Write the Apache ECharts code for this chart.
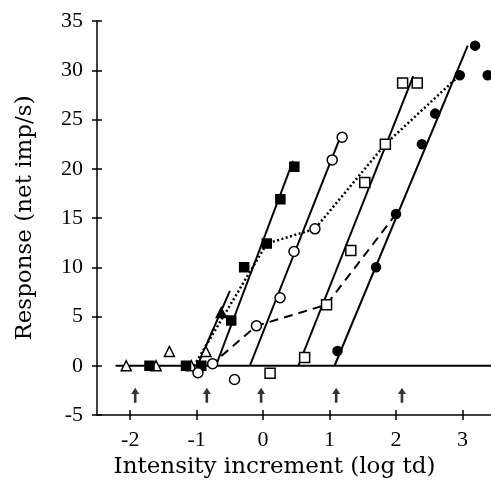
<!DOCTYPE html>
<html><head><meta charset="utf-8">
<script src="https://cdn.jsdelivr.net/npm/echarts@6/dist/echarts.min.js"></script>
<style>html,body{margin:0;padding:0;background:#fff}#c{width:491px;height:485px}</style>
</head><body><div id="c"></div>
<script>
// Tick values
const xTicks = [-2, -1, 0, 1, 2, 3];
const yTicks = [-5, 0, 5, 10, 15, 20, 25, 30, 35];

// Open triangles
const triX = [-2.06, -1.61, -1.41, -1.08, -0.86];
const triY = [0, 0, 1.45, 0, 1.45];
// Dark triangle on the line
const triDarkX = [-0.63];
const triDarkY = [5.4];
// Filled squares
const fsqX = [-1.71, -1.16, -0.93, -0.48, -0.285, 0.055, 0.26, 0.47];
const fsqY = [0, 0, 0, 4.6, 10.0, 12.4, 16.9, 20.2];
// Open circles
const ocX = [-0.98, -0.76, -0.43, -0.10, 0.255, 0.465, 0.78, 1.04, 1.19];
const ocY = [-0.7, 0.2, -1.4, 4.05, 6.9, 11.6, 13.9, 20.9, 23.2];
// Open squares
const osqX = [0.105, 0.625, 0.955, 1.32, 1.53, 1.84, 2.10, 2.32];
const osqY = [-0.75, 0.85, 6.2, 11.7, 18.6, 22.5, 28.7, 28.7];
// Filled circles
const fcX = [1.12, 1.70, 2.0, 2.39, 2.59, 2.96, 3.19, 3.38];
const fcY = [1.5, 10.0, 15.4, 22.5, 25.6, 29.5, 32.5, 29.5];

// Regression lines (end points)
const triLineX = [-0.99, -0.5];   const triLineY = [0, 7.6];
const fsqLineX = [-0.71, 0.45];   const fsqLineY = [0, 20.8];
const ocLineX = [-0.2, 1.15];     const ocLineY = [0, 23.0];
const osqLineX = [0.53, 2.26];    const osqLineY = [0, 29.4];
const fcLineX = [1.075, 3.08];    const fcLineY = [0, 32.5];
// Dotted and dashed connecting curves
const dottedX = [-1.04, 0.055, 0.78, 1.84, 2.96];
const dottedY = [0, 12.4, 13.9, 22.5, 29.5];
const dashedX = [-0.8, -0.10, 0.955, 2.0];
const dashedY = [0, 4.05, 6.2, 15.4];
// Zero baseline
const baseX = [-2.22, 3.43];
const baseY = [0, 0];
// Background-level arrows
const arrowX = [-1.925, -0.847, -0.03, 1.10, 2.09];
const arrowY = [-3.0, -3.0, -3.0, -3.0, -3.0];

const pairs = (xs, ys) => xs.map((x, i) => [x, ys[i]]);
const arrowPath = 'path://M4,0 L8,6.5 L5.3,6.5 L5.3,16 L2.7,16 L2.7,6.5 L0,6.5 Z';

function lineS(xs, ys, type, width) {
  return {
    type: 'line', data: pairs(xs, ys), showSymbol: false, symbol: 'none',
    lineStyle: { color: '#000', width: width, type: type }, z: 2, silent: true
  };
}
function scat(xs, ys, symbol, size, fill) {
  return {
    type: 'scatter', data: pairs(xs, ys), symbol: symbol, symbolSize: size,
    itemStyle: { color: fill, borderColor: '#000', borderWidth: 1.5, opacity: 1 }, z: 5, silent: true
  };
}

const chart = echarts.init(document.getElementById('c'), null, { renderer: 'canvas' });
const tickStyle = { color: '#000', width: 1.5 };
chart.setOption({
  animation: false,
  backgroundColor: '#fff',
  grid: { left: 97, right: 0, top: 21, bottom: 70, containLabel: false, outerBoundsMode: 'none' },
  xAxis: [{
    type: 'value', min: -2.5, max: 3.43,
    axisLine: { show: true, onZero: false, lineStyle: { color: '#000', width: 1.5 } },
    axisTick: { show: true, length: 5, lineStyle: tickStyle, customValues: xTicks },
    axisLabel: { show: true, customValues: xTicks, margin: 14, color: '#000',
      fontFamily: 'Liberation Serif', fontSize: 22 },
    splitLine: { show: false },
    name: 'Intensity increment (log td)', nameLocation: 'middle', nameGap: 41,
    nameTextStyle: { fontFamily: 'DejaVu Serif', fontSize: 23, color: '#000', padding: [0, 39, 0, 0] }
  }, {
    type: 'value', min: -2.5, max: 3.43, position: 'bottom',
    axisLine: { show: false, onZero: false },
    axisTick: { show: true, inside: true, length: 5, lineStyle: tickStyle, customValues: xTicks },
    axisLabel: { show: false }, splitLine: { show: false }
  }],
  yAxis: [{
    type: 'value', min: -5, max: 35, interval: 5,
    axisLine: { show: true, onZero: false, lineStyle: { color: '#000', width: 1.5 } },
    axisTick: { show: true, length: 5, lineStyle: tickStyle },
    axisLabel: { show: true, margin: 14, color: '#000',
      fontFamily: 'Liberation Serif', fontSize: 22 },
    splitLine: { show: false },
    name: 'Response (net imp/s)', nameLocation: 'middle', nameGap: 60, nameRotate: 90,
    nameTextStyle: { fontFamily: 'DejaVu Serif', fontSize: 23, color: '#000' }
  }, {
    type: 'value', min: -5, max: 35, interval: 5, position: 'left',
    axisLine: { show: false, onZero: false },
    axisTick: { show: true, inside: true, length: 5, lineStyle: tickStyle },
    axisLabel: { show: false }, splitLine: { show: false }
  }],
  series: [
    lineS(baseX, baseY, 'solid', 2),
    lineS(triLineX, triLineY, 'solid', 2),
    lineS(fsqLineX, fsqLineY, 'solid', 2),
    lineS(ocLineX, ocLineY, 'solid', 2),
    lineS(osqLineX, osqLineY, 'solid', 2),
    lineS(fcLineX, fcLineY, 'solid', 2),
    lineS(dottedX, dottedY, [2, 2.5], 2.5),
    lineS(dashedX, dashedY, [9, 6], 2),
    scat(triX, triY, 'triangle', 10, '#fff'),
    scat(triDarkX, triDarkY, 'triangle', 10, '#000'),
    scat(fsqX, fsqY, 'rect', 9, '#000'),
    scat(ocX, ocY, 'circle', 10, '#fff'),
    scat(osqX, osqY, 'rect', 10, '#fff'),
    scat(fcX, fcY, 'circle', 9, '#000'),
    {
      type: 'scatter', data: pairs(arrowX, arrowY), symbol: arrowPath, symbolSize: [8, 15],
      itemStyle: { color: '#000' }, z: 5, silent: true
    }
  ]
});
</script>
</body></html>
